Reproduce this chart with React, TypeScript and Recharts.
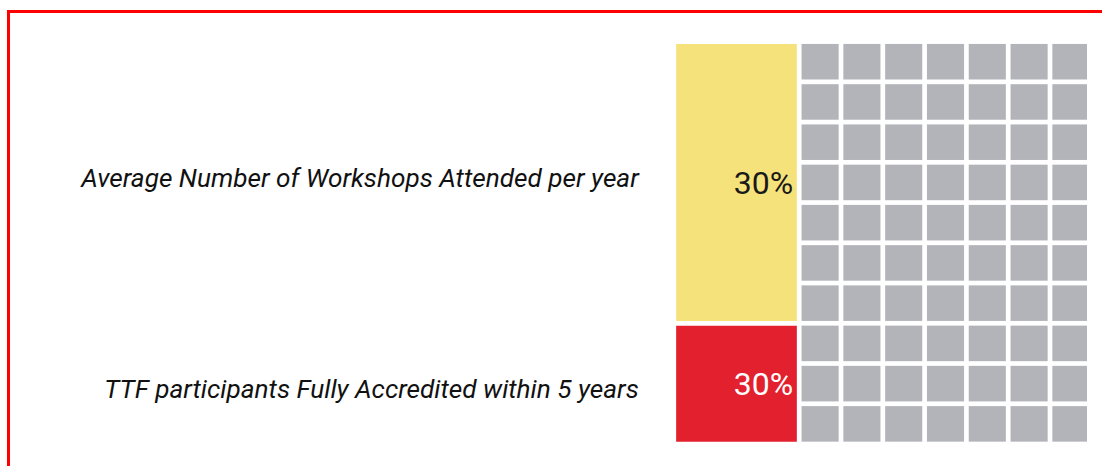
import React from "react";
import {
  ComposedChart,
  XAxis,
  YAxis,
  Scatter,
  ReferenceArea,
} from "recharts";

// two measures, each shown as a block of a 10 x 10 waffle grid
const categories = [
  "Average Number of Workshops Attended per year",
  "TTF participants Fully Accredited within 5 years",
];
const percentValues = [30, 30];
const percentLabels = ["30%", "30%"];
const rowSpans = [7, 3];

const GRID_COLS = 10;
const GRID_ROWS = 10;

const CHART_W = 1092;
const CHART_H = 466;
const MARGIN = { top: 41.6, right: 0.2, bottom: 22, left: 0 };
const AXIS_W = 673.8;
const GAP = 4.7;
const PLOT_W = CHART_W - MARGIN.left - MARGIN.right - AXIS_W;
const PLOT_H = CHART_H - MARGIN.top - MARGIN.bottom;
const CELL_W = PLOT_W / GRID_COLS - GAP;
const CELL_H = PLOT_H / GRID_ROWS - GAP;

const blockFills = ["#f6e27a", "#e3202d"];
const blockText = ["#1a1a1a", "#ffffff"];
const CELL_GRAY = "#b3b4b9";
// small vertical nudges of the left-hand labels
const labelNudge = [-5, 5];

const rowStarts = rowSpans.map((_, i) =>
  rowSpans.slice(0, i).reduce((a, b) => a + b, 0)
);

const blocks = categories.map((name, i) => ({
  name,
  x1: 0,
  x2: percentValues[i] / (100 / GRID_COLS),
  y1: rowStarts[i],
  y2: rowStarts[i] + rowSpans[i],
  label: percentLabels[i],
}));

// remaining grey squares, addressed by their centre
const grayCells: { col: number; row: number }[] = [];
blocks.forEach((b) => {
  for (let r = b.y1; r < b.y2; r++) {
    for (let c = b.x2; c < GRID_COLS; c++) {
      grayCells.push({ col: c + 0.5, row: r + 0.5 });
    }
  }
});

const labelTicks = blocks.map((b) => (b.y1 + b.y2) / 2);

const CellShape = (props: any) => {
  const { cx, cy } = props;
  if (cx == null || cy == null) return null;
  return (
    <rect
      x={cx - CELL_W / 2}
      y={cy - CELL_H / 2}
      width={CELL_W}
      height={CELL_H}
      fill={CELL_GRAY}
    />
  );
};

const LabelTick = (props: any) => {
  const { x, y, payload, index } = props;
  const name = blocks.find((b) => (b.y1 + b.y2) / 2 === payload.value)?.name;
  return (
    <text
      x={x}
      y={y + (labelNudge[index] ?? 0)}
      dy="0.355em"
      textAnchor="end"
      fontFamily="Roboto"
      fontStyle="italic"
      fontSize={26.2}
      fill="#111"
    >
      {name}
    </text>
  );
};

const App: React.FC = () => {
  return (
    <div
      style={{
        position: "fixed",
        left: 0,
        top: 0,
        width: 1102,
        height: 466,
        overflow: "hidden",
        background: "#fff",
      }}
    >
      <div
        style={{
          position: "absolute",
          left: 7,
          top: 10,
          width: 1300,
          height: 700,
          borderTop: "3px solid #ff0000",
          borderLeft: "3px solid #ff0000",
        }}
      />
      <div
        style={{
          position: "absolute",
          left: 0,
          top: 0,
          width: 1087,
          height: CHART_H,
          overflow: "hidden",
        }}
      >
        <ComposedChart
          width={CHART_W}
          height={CHART_H}
          data={grayCells}
          margin={MARGIN}
        >
          <XAxis
            type="number"
            dataKey="col"
            domain={[0, GRID_COLS]}
            allowDataOverflow
            hide
          />
          <YAxis
            type="number"
            dataKey="row"
            domain={[0, GRID_ROWS]}
            allowDataOverflow
            reversed
            width={AXIS_W}
            ticks={labelTicks}
            axisLine={false}
            tickLine={false}
            tickSize={0}
            tickMargin={35}
            interval={0}
            tick={<LabelTick />}
          />
          <Scatter
            data={grayCells}
            dataKey="row"
            shape={CellShape}
            isAnimationActive={false}
          />
          {blocks.map((b, i) => (
            <ReferenceArea
              key={`b-${i}`}
              x1={b.x1}
              x2={b.x2}
              y1={b.y1}
              y2={b.y2}
              fill={blockFills[i]}
              fillOpacity={1}
              stroke="#ffffff"
              strokeWidth={GAP}
              label={{
                value: b.label,
                position: "insideRight",
                offset: 6,
                fill: blockText[i],
                fontSize: 32,
                fontFamily: "Roboto",
              }}
            />
          ))}
        </ComposedChart>
      </div>
    </div>
  );
};

export default App;
